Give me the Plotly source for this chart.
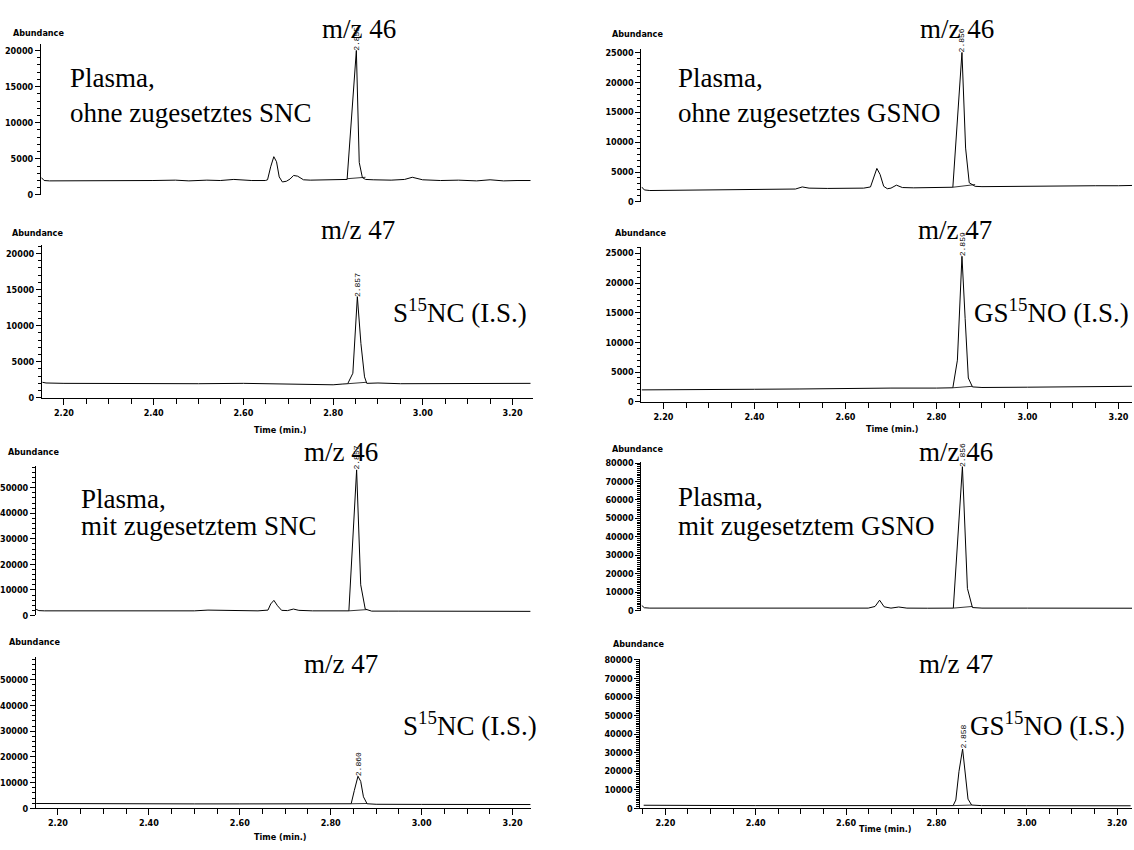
import numpy as np
import plotly.graph_objects as go

W, H = 1134, 850

# ---------------- data ----------------
# Panel 1: m/z 46, plasma without SNC
t1 = [2.152, 2.158, 2.17, 2.20, 2.25, 2.30, 2.35, 2.40, 2.45, 2.48, 2.52, 2.55, 2.58, 2.62, 2.65,
      2.655, 2.662, 2.669, 2.675, 2.681, 2.688, 2.697, 2.705, 2.713, 2.722, 2.735, 2.75, 2.78, 2.81,
      2.832, 2.8526, 2.859, 2.866, 2.873, 2.89, 2.93, 2.96, 2.977, 3.00, 3.04, 3.08, 3.12, 3.15, 3.18,
      3.21, 3.24]
i1 = [2400, 2000, 1950, 1950, 1900, 1950, 1950, 2000, 2050, 1950, 2050, 2000, 2150, 2000, 2000,
      2100, 3900, 5300, 4600, 2500, 1800, 1900, 2200, 2700, 2600, 2100, 2050, 2050, 2100,
      2150, 20000, 4500, 2400, 2150, 2100, 2050, 2150, 2450, 2100, 2000, 2050, 1950, 2100, 1950,
      2000, 2000]
seg1_t = [2.832, 2.873]
seg1_i = [2250, 2450]

# Panel 2: m/z 47, S15NC (I.S.)
t2 = [2.152, 2.16, 2.20, 2.30, 2.40, 2.50, 2.60, 2.70, 2.76, 2.80, 2.82, 2.8325, 2.844, 2.854,
      2.862, 2.870, 2.875, 2.90, 2.95, 3.00, 3.05, 3.10, 3.15, 3.20, 3.24]
i2 = [2150, 2050, 2000, 1950, 2000, 1950, 2000, 1950, 1850, 1800, 1900, 1950, 3400, 14000,
      7500, 2900, 2000, 2050, 1950, 1950, 2000, 1900, 1950, 1950, 2000]
seg2_t = [2.8325, 2.875]
seg2_i = [1950, 2150]

# Panel 3: m/z 46, plasma without GSNO
t3 = [2.152, 2.158, 2.17, 2.25, 2.35, 2.45, 2.49, 2.505, 2.52, 2.56, 2.60, 2.64, 2.655, 2.662,
      2.669, 2.676, 2.684, 2.692, 2.70, 2.712, 2.725, 2.75, 2.80, 2.836, 2.856, 2.864, 2.872,
      2.885, 2.90, 2.95, 3.00, 3.05, 3.10, 3.15, 3.20, 3.23]
i3 = [2500, 2000, 1900, 1950, 1950, 2050, 2150, 2500, 2300, 2250, 2300, 2300, 2500, 4200,
      5600, 4600, 2600, 2200, 2300, 2800, 2400, 2350, 2400, 2450, 25000, 9000, 3200,
      2600, 2550, 2600, 2550, 2600, 2650, 2700, 2700, 2750]
seg3_t = [2.836, 2.885]
seg3_i = [2450, 2900]

# Panel 4: m/z 47, GS15NO (I.S.)
t4 = [2.152, 2.20, 2.30, 2.40, 2.50, 2.60, 2.70, 2.80, 2.836, 2.846, 2.856, 2.863, 2.870,
      2.879, 2.90, 3.00, 3.10, 3.20, 3.23]
i4 = [2000, 2000, 2050, 2100, 2150, 2250, 2300, 2300, 2350, 7000, 24500, 14000, 4000,
      2500, 2400, 2450, 2500, 2550, 2600]
seg4_t = [2.836, 2.879]
seg4_i = [2350, 2600]

# Panel 5: m/z 46, plasma with SNC
t5 = [2.152, 2.158, 2.17, 2.25, 2.35, 2.45, 2.50, 2.53, 2.56, 2.60, 2.64, 2.662, 2.668, 2.675,
      2.683, 2.692, 2.705, 2.718, 2.73, 2.76, 2.80, 2.84, 2.857, 2.866, 2.876, 2.89, 2.95, 3.00,
      3.05, 3.10, 3.15, 3.20, 3.24]
i5 = [2400, 1900, 1800, 1800, 1800, 1750, 1800, 2100, 2000, 1800, 1800, 2100, 4500, 5900,
      3800, 2000, 1900, 2500, 2000, 1800, 1750, 1800, 57000, 12000, 2500, 1700, 1700, 1650,
      1600, 1600, 1600, 1550, 1600]
seg5_t = [2.84, 2.88]
seg5_i = [1800, 2300]

# Panel 6: m/z 47, S15NC (I.S.), plasma with SNC
t6 = [2.152, 2.20, 2.30, 2.40, 2.50, 2.60, 2.70, 2.80, 2.845, 2.852, 2.860, 2.866, 2.872,
      2.880, 2.90, 3.00, 3.10, 3.20, 3.24]
i6 = [1900, 1850, 1800, 1800, 1750, 1750, 1700, 1700, 1800, 7000, 12500, 10500, 4500,
      1800, 1600, 1550, 1500, 1500, 1500]
seg6_t = [2.845, 2.880]
seg6_i = [1800, 1900]

# Panel 7: m/z 46, plasma with GSNO
t7 = [2.152, 2.158, 2.17, 2.30, 2.40, 2.50, 2.60, 2.65, 2.665, 2.675, 2.685, 2.70, 2.717,
      2.735, 2.78, 2.837, 2.857, 2.868, 2.879, 2.90, 3.00, 3.10, 3.20, 3.23]
i7 = [2800, 1500, 1300, 1300, 1250, 1300, 1300, 1300, 2200, 5600, 2000, 1300, 1900,
      1300, 1250, 1300, 78000, 12000, 1600, 1300, 1300, 1200, 1200, 1250]
seg7_t = [2.837, 2.879]
seg7_i = [1300, 2200]

# Panel 8: m/z 47, GS15NO (I.S.), plasma with GSNO
t8 = [2.152, 2.20, 2.30, 2.40, 2.50, 2.60, 2.70, 2.80, 2.837, 2.843, 2.850, 2.858, 2.864,
      2.870, 2.878, 2.90, 3.00, 3.10, 3.20, 3.23]
i8 = [1700, 1600, 1600, 1500, 1500, 1450, 1450, 1450, 1500, 4500, 20000, 32000, 20000,
      5000, 1800, 1500, 1450, 1450, 1400, 1400]
seg8_t = [2.837, 2.878]
seg8_i = [1500, 1800]

peak_labels = ["2.855", "2.857", "2.856", "2.859", "2.857", "2.860", "2.856", "2.858"]
mz_labels = ["m/z 46", "m/z 47", "m/z 46", "m/z 47", "m/z 46", "m/z 47", "m/z 46", "m/z 47"]
sample_lines = [["Plasma,", "ohne zugesetztes SNC"], None,
                ["Plasma,", "ohne zugesetztes GSNO"], None,
                ["Plasma,", "mit zugesetztem SNC"], None,
                ["Plasma,", "mit zugesetztem GSNO"], None]
is_labels = [None, "S<sup>15</sup>NC (I.S.)", None, "GS<sup>15</sup>NO (I.S.)",
             None, "S<sup>15</sup>NC (I.S.)", None, "GS<sup>15</sup>NO (I.S.)"]

series = [(t1, i1, seg1_t, seg1_i), (t2, i2, seg2_t, seg2_i), (t3, i3, seg3_t, seg3_i),
          (t4, i4, seg4_t, seg4_i), (t5, i5, seg5_t, seg5_i), (t6, i6, seg6_t, seg6_i),
          (t7, i7, seg7_t, seg7_i), (t8, i8, seg8_t, seg8_i)]

# ---------------- layout geometry (pixels) ----------------
panels = [
    dict(box=(40, 532, 40, 193), xr=(2.151, 3.2445), ytop=20960, dt=5000, mn=1000, xaxis=False),
    dict(box=(41, 532, 244, 398), xr=(2.151, 3.2445), ytop=21100, dt=5000, mn=1000, xaxis=True),
    dict(box=(641, 1132, 45, 200), xr=(2.1516, 3.2297), ytop=25660, dt=5000, mn=1000, xaxis=False),
    dict(box=(641, 1132, 246, 402), xr=(2.1516, 3.2297), ytop=26000, dt=5000, mn=1000, xaxis=True),
    dict(box=(35, 530, 467, 618), xr=(2.1516, 3.2396), ytop=58500, dt=10000, mn=2000, xaxis=False),
    dict(box=(35, 530, 660, 813), xr=(2.1516, 3.2396), ytop=58850, dt=10000, mn=2000, xaxis=True),
    dict(box=(641, 1132, 463, 613), xr=(2.1516, 3.2297), ytop=80500, dt=10000, mn=1000, xaxis=False),
    dict(box=(640, 1132, 662, 813), xr=(2.1448, 3.233), ytop=80500, dt=10000, mn=1000, xaxis=True),
]

abund_pos = [(38, 29), (37, 231), (637, 30), (640, 231), (33, 453), (34, 645), (637, 450), (638, 647)]
mz_pos = [(358, 25), (357, 228), (957, 25), (955, 228), (340, 453), (340, 667), (956, 453), (956, 667)]
sample_pos = [((67, 75), (67, 110)), None, ((676, 75), (676, 110)), None,
              ((78, 500), (78, 528)), None, ((676, 498), (676, 528)), None]
is_pos = [None, (390, 310), None, (972, 310), None, (400, 728), None, (968, 728)]
time_pos = [(280, 431), (892, 430), (280, 842), (885, 834)]


def px(x):
    return x / W


def py(y):
    return 1 - y / H


small_font = dict(family="Liberation Sans Narrow, Arial Narrow, DejaVu Sans Condensed, Arial, sans-serif",
                  size=9, color="black", weight="bold")
big_font = dict(family="Liberation Serif, Times New Roman, serif", size=27, color="black")
rt_font = dict(family="Liberation Mono, DejaVu Sans Mono, monospace", size=8, color="black")

fig = go.Figure()
layout = dict(width=W, height=H, autosize=False, margin=dict(l=0, r=0, t=0, b=0),
              paper_bgcolor="white", plot_bgcolor="white", showlegend=False)
annotations = []

for k, (p, (tt, ii, st, si)) in enumerate(zip(panels, series)):
    n = k + 1
    xa = "x" if n == 1 else f"x{n}"
    ya = "y" if n == 1 else f"y{n}"
    xkey = "xaxis" if n == 1 else f"xaxis{n}"
    ykey = "yaxis" if n == 1 else f"yaxis{n}"
    l, r, t, b = p["box"]
    fig.add_trace(go.Scatter(x=tt, y=ii, mode="lines", xaxis=xa, yaxis=ya,
                             line=dict(color="black", width=1), hoverinfo="skip"))
    fig.add_trace(go.Scatter(x=st, y=si, mode="lines", xaxis=xa, yaxis=ya,
                             line=dict(color="black", width=0.8), hoverinfo="skip"))
    xax = dict(domain=[px(l), px(r)], range=list(p["xr"]), anchor=ya, showgrid=False,
               zeroline=False, fixedrange=True)
    if p["xaxis"]:
        xax.update(showline=True, linecolor="black", linewidth=1, ticks="outside", ticklen=6,
                   tickcolor="black", tickwidth=1, dtick=0.2, tick0=2.2, tickformat=".2f",
                   tickfont=small_font,
                   minor=dict(dtick=0.05, tick0=2.2, ticks="outside", ticklen=5,
                              tickcolor="black", tickwidth=1))
    else:
        xax.update(showline=False, showticklabels=False, ticks="")
    yax = dict(domain=[py(b), py(t)], range=[0, p["ytop"]], anchor=xa, showgrid=False,
               zeroline=False, showline=True, linecolor="black", linewidth=1, ticks="outside",
               ticklen=5, tickcolor="black", tickwidth=1, dtick=p["dt"], tick0=0,
               tickformat="d", tickfont=small_font, fixedrange=True,
               minor=dict(dtick=p["mn"], tick0=0, ticks="outside", ticklen=3,
                          tickcolor="black", tickwidth=1))
    layout[xkey] = xax
    layout[ykey] = yax

    # retention-time label at the apex
    j = int(np.argmax(ii))
    annotations.append(dict(x=tt[j], y=ii[j], xref=xa, yref=ya, text=peak_labels[k],
                            textangle=-90, showarrow=False, yanchor="bottom", xanchor="center",
                            yshift=-2, font=rt_font))
    ax_, ay_ = abund_pos[k]
    annotations.append(dict(x=px(ax_), y=py(ay_), xref="paper", yref="paper", text="Abundance",
                            showarrow=False, xanchor="center", yanchor="middle", font=small_font))
    mx, my = mz_pos[k]
    annotations.append(dict(x=px(mx), y=py(my), xref="paper", yref="paper", text=mz_labels[k],
                            showarrow=False, xanchor="center", yanchor="middle", font=big_font))
    if sample_lines[k]:
        for line_txt, (sx, sy) in zip(sample_lines[k], sample_pos[k]):
            annotations.append(dict(x=px(sx), y=py(sy), xref="paper", yref="paper", text=line_txt,
                                    showarrow=False, xanchor="left", yanchor="middle",
                                    font=big_font))
    if is_labels[k]:
        ix, iy = is_pos[k]
        annotations.append(dict(x=px(ix), y=py(iy), xref="paper", yref="paper", text=is_labels[k],
                                showarrow=False, xanchor="left", yanchor="middle", font=big_font))

for (tx, ty) in time_pos:
    annotations.append(dict(x=px(tx), y=py(ty), xref="paper", yref="paper", text="Time (min.)",
                            showarrow=False, xanchor="center", yanchor="middle", font=small_font))

layout["annotations"] = annotations
fig.update_layout(**layout)
fig.write_html("out.html")
